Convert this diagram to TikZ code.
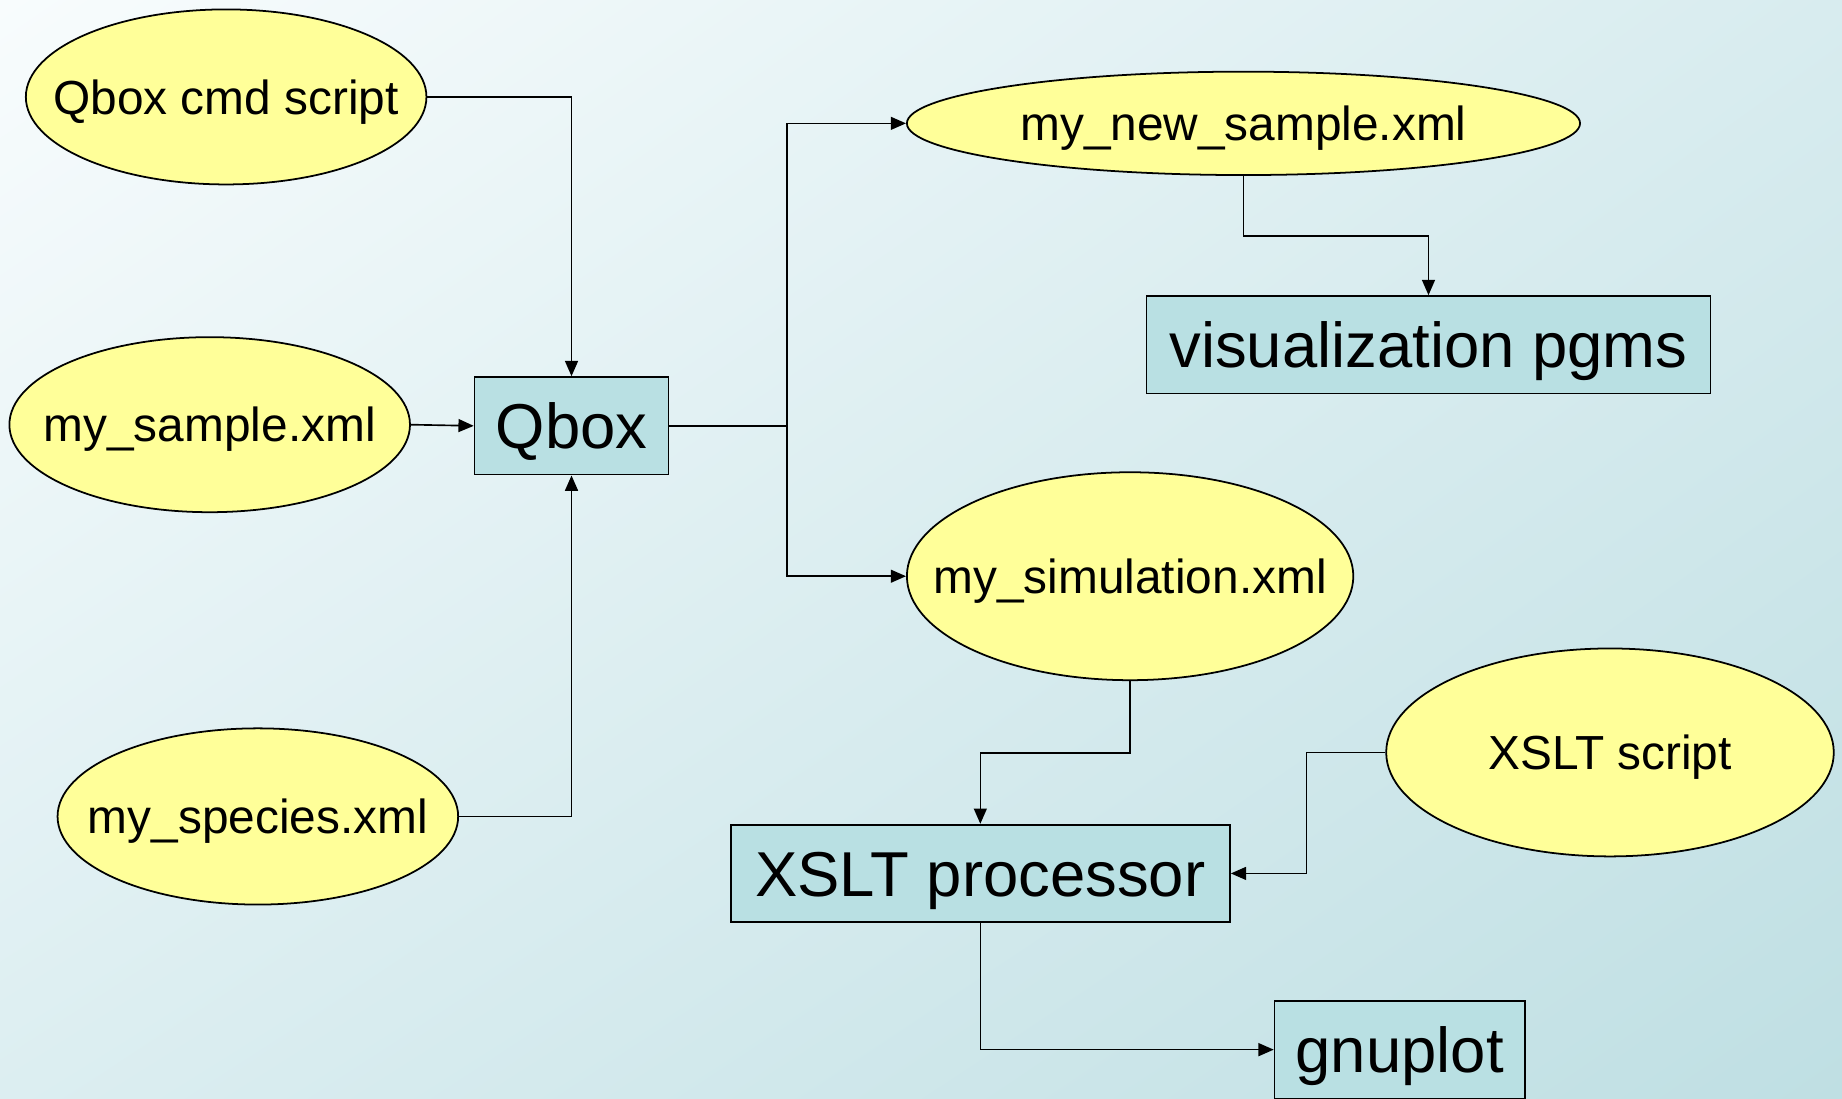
\documentclass[tikz,border=0pt]{standalone}
\usepackage{fontspec}
\setmainfont{Liberation Sans}
\usetikzlibrary{shapes.geometric,arrows.meta,shadings}
\definecolor{ellfill}{HTML}{FFFF99}
\definecolor{boxfill}{HTML}{B9E0E3}
\definecolor{bgUL}{HTML}{F8FCFD}
\definecolor{bgUR}{HTML}{D8ECEF}
\definecolor{bgLL}{HTML}{DCEEF1}
\definecolor{bgLR}{HTML}{BFDFE3}
\tikzset{
  ell/.style={ellipse, draw=black, line width=1.5pt, fill=ellfill, inner sep=0pt,
    font=\fontsize{40.7pt}{48pt}\selectfont},
  boxnode/.style={rectangle, draw=black, line width=1.5pt, fill=boxfill, inner sep=0pt,
    minimum height=83pt, font=\fontsize{54pt}{64pt}\selectfont},
  conn/.style={draw=black, line width=1.4pt, -{Triangle[length=13pt,width=11pt]}},
  plain/.style={draw=black, line width=1.4pt}
}
\newcommand{\ztext}[1]{\makebox[0pt]{\raisebox{-0.36em}[0pt][0pt]{#1}}}
\begin{document}
\begin{tikzpicture}[x=1pt,y=-1pt]
\shade[upper left=bgUL, upper right=bgUR, lower left=bgLL, lower right=bgLR] (0,0) rectangle (1568,935);
\useasboundingbox (0,0) rectangle (1568,935);

\node[ell, minimum width=341pt, minimum height=149pt] (cmd) at (192.5,82.5) {\ztext{Qbox cmd script}};
\node[ell, minimum width=341pt, minimum height=149pt] (sample) at (178.5,361.5) {\ztext{my\_sample.xml}};
\node[ell, minimum width=341pt, minimum height=150pt] (species) at (219.5,695) {\ztext{my\_species.xml}};
\node[ell, minimum width=573pt, minimum height=88pt] (newsample) at (1058.5,105) {\ztext{my\_new\_sample.xml}};
\node[ell, minimum width=380pt, minimum height=177pt] (sim) at (962,490.5) {\ztext{my\_simulation.xml}};
\node[ell, minimum width=381pt, minimum height=177pt] (xscript) at (1370.5,640.5) {\ztext{XSLT script}};

\node[boxnode, minimum width=165pt] (qbox) at (486.5,362.5) {\ztext{Qbox}};
\node[boxnode, minimum width=480pt] (vis) at (1216,293.5) {\ztext{visualization pgms}};
\node[boxnode, minimum width=425pt] (xproc) at (834.5,743.5) {\ztext{XSLT processor}};
\node[boxnode, minimum width=213pt] (gnu) at (1191.5,893.5) {\ztext{gnuplot}};

\coordinate (j) at (670,362.5);

\draw[conn] (cmd.east) -| (qbox.north);
\draw[conn] (sample.east) -- (qbox.west);
\draw[conn] (species.east) -| (qbox.south);
\draw[plain] (qbox.east) -- (j);
\draw[conn] (j) |- (newsample.west);
\draw[conn] (j) |- (sim.west);
\draw[conn] (newsample.south) -- ++(0,51) -| (vis.north);
\draw[conn] (sim.south) -- ++(0,61) -| (xproc.north);
\draw[conn] (xscript.west) -- ++(-67,0) |- (xproc.east);
\draw[conn] (xproc.south) |- (gnu.west);
\end{tikzpicture}
\end{document}
